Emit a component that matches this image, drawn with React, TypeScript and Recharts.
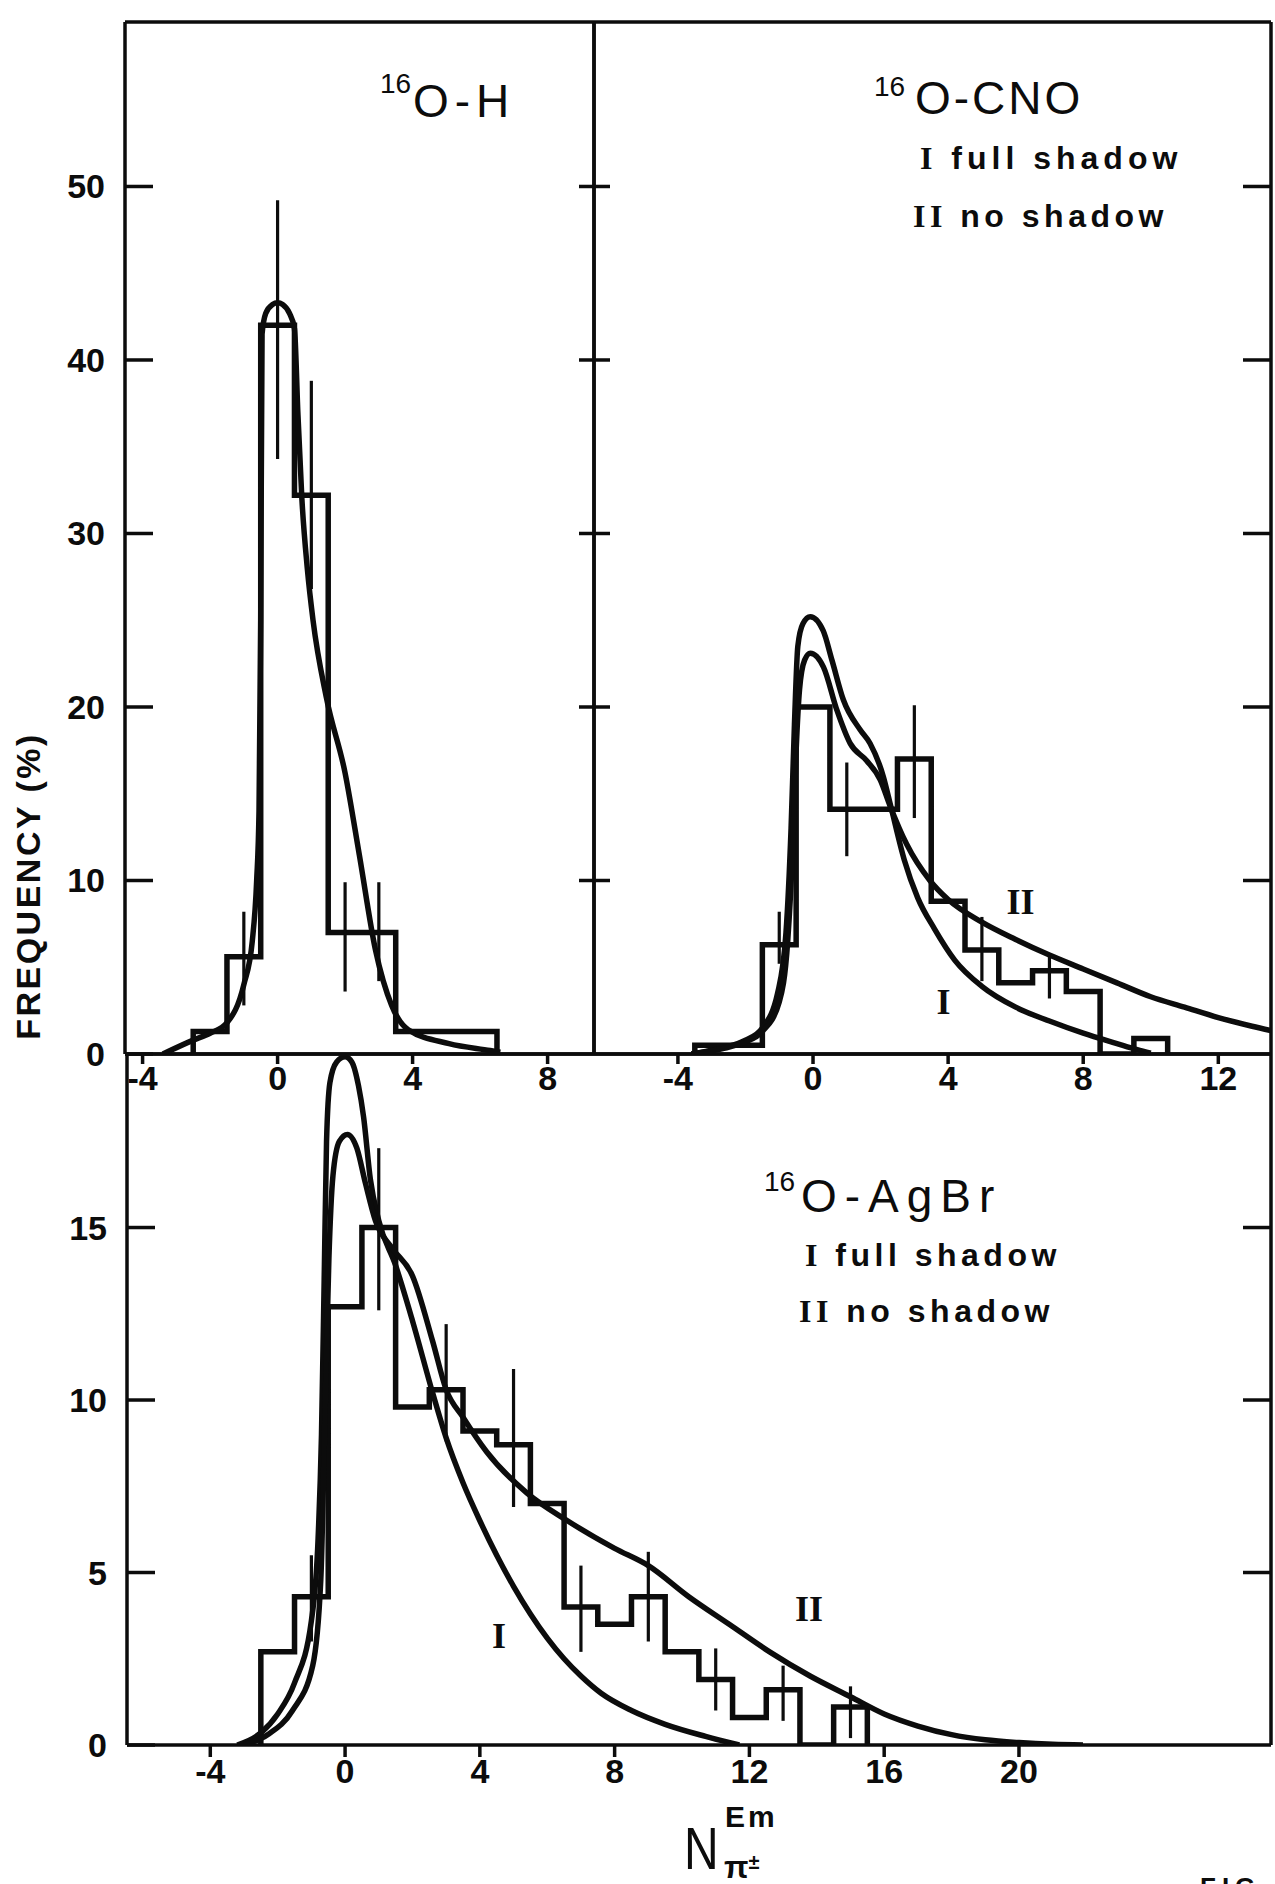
import React from 'react';
import { ComposedChart, Line, XAxis, YAxis, ReferenceLine, ReferenceDot } from 'recharts';

// ---------- 16O - H ----------
const ohEdges = [-2.5, -1.5, -0.5, 0.5, 1.5, 3.5, 6.5];
const ohFreq = [1.3, 5.6, 42.0, 32.2, 7.0, 1.3];
const ohErrX = [-1, 0, 1, 2, 3];
const ohErrLo = [2.8, 34.3, 26.8, 3.6, 4.2];
const ohErrHi = [8.2, 49.2, 38.8, 9.9, 9.9];
const ohFitX = [-3.4, -2.5, -2.0, -1.5, -1.0, -0.75, -0.62, -0.55, -0.5, -0.46, -0.35, -0.15, 0.0, 0.15, 0.35, 0.5, 0.6, 0.72, 0.88, 1.05, 1.45, 2.0, 2.42, 2.9, 3.38, 3.87, 5.08, 6.3, 6.6];
const ohFitY = [0, 0.8, 1.2, 1.8, 4.0, 6.5, 10.0, 14.0, 25.0, 41.5, 42.7, 43.2, 43.3, 43.2, 42.7, 41.8, 37.0, 32.0, 28.0, 25.0, 20.5, 16.2, 11.5, 6.0, 2.8, 1.4, 0.6, 0.2, 0.1];

// ---------- 16O - CNO ----------
const cnoEdges = [-3.5, -1.5, -0.5, 0.5, 2.5, 3.5, 4.5, 5.5, 6.5, 7.5, 8.5, 9.5, 10.5];
const cnoFreq = [0.5, 6.3, 20.0, 14.1, 17.0, 8.8, 6.0, 4.1, 4.8, 3.6, 0, 0.9];
const cnoErrX = [-1, 1, 3, 5, 7];
const cnoErrLo = [5.2, 11.4, 13.6, 4.2, 3.2];
const cnoErrHi = [8.2, 16.8, 20.1, 7.9, 5.6];
const cnoIX = [-3.6, -2.7, -2.0, -1.5, -1.05, -0.8, -0.65, -0.55, -0.45, -0.3, -0.08, 0.3, 0.56, 0.9, 1.39, 1.69, 2.08, 2.3, 2.7, 3.1, 3.6, 4.2, 5.0, 6.0, 7.0, 8.0, 9.0, 9.6, 10.0];
const cnoIY = [0, 0.35, 0.8, 1.5, 3.5, 7.0, 13.0, 19.0, 23.5, 24.8, 25.2, 24.4, 22.7, 20.4, 18.7, 17.9, 16.0, 14.3, 11.2, 9.0, 7.2, 5.4, 3.9, 2.7, 1.9, 1.2, 0.6, 0.25, 0.05];
const cnoIIX = [-3.6, -2.7, -2.0, -1.5, -1.0, -0.75, -0.6, -0.5, -0.4, -0.25, -0.08, 0.31, 0.71, 1.1, 1.59, 1.99, 2.28, 2.77, 3.46, 4.0, 5.0, 6.0, 7.0, 8.0, 9.0, 10.0, 11.0, 12.0, 13.0, 13.56];
const cnoIIY = [0, 0.3, 0.7, 1.3, 3.0, 6.5, 12.0, 17.5, 21.0, 22.7, 23.1, 22.3, 19.8, 17.9, 16.9, 15.8, 14.3, 12.1, 10.0, 8.9, 7.6, 6.6, 5.7, 4.9, 4.1, 3.3, 2.7, 2.1, 1.6, 1.35];
const cnoNoteX = [6.14, 3.86];
const cnoNoteY = [8.8, 3.05];
const cnoNoteText = ['II', 'I'];

// ---------- 16O - AgBr ----------
const agEdges = [-2.5, -1.5, -0.5, 0.5, 1.5, 2.5, 3.5, 4.5, 5.5, 6.5, 7.5, 8.5, 9.5, 10.5, 11.5, 12.5, 13.5, 14.5, 15.5];
const agFreq = [2.7, 4.3, 12.7, 15.0, 9.8, 10.3, 9.1, 8.7, 7.0, 4.0, 3.5, 4.3, 2.7, 1.9, 0.8, 1.6, 0, 1.1];
const agErrX = [-1, 1, 3, 5, 7, 9, 11, 13, 15];
const agErrLo = [3.0, 12.6, 8.8, 6.9, 2.7, 3.0, 1.0, 0.7, 0.2];
const agErrHi = [5.5, 17.3, 12.2, 10.9, 5.2, 5.6, 2.8, 2.3, 1.7];
const agIX = [-3.2, -2.5, -2.0, -1.5, -1.0, -0.8, -0.7, -0.62, -0.55, -0.45, -0.25, 0, 0.2, 0.4, 0.55, 0.75, 1.0, 1.5, 2.0, 2.6, 3.0, 3.5, 4.0, 4.5, 5.0, 5.5, 6.0, 6.5, 7.0, 7.6, 8.5, 9.5, 10.7, 11.7];
const agIY = [0, 0.35, 0.9, 1.8, 3.6, 6.0, 9.0, 13.5, 17.5, 19.2, 19.8, 19.95, 19.8, 19.1, 18.2, 16.4, 15.2, 13.9, 12.3, 10.2, 8.9, 7.6, 6.5, 5.5, 4.6, 3.8, 3.1, 2.5, 2.0, 1.5, 1.0, 0.6, 0.25, 0];
const agIIX = [-3.0, -2.3, -1.56, -0.96, -0.72, -0.6, -0.48, -0.36, -0.17, 0.07, 0.35, 0.6, 0.9, 1.4, 2.0, 2.6, 3.0, 3.5, 4.2, 5.4, 6.6, 8.0, 9.0, 10.2, 11.4, 12.6, 13.8, 15.0, 16.0, 17.0, 18.0, 19.0, 20.0, 21.0, 21.9];
const agIIY = [0, 0.3, 1.0, 2.3, 4.8, 9.4, 14.1, 16.5, 17.5, 17.7, 17.3, 16.3, 15.2, 14.4, 13.6, 11.7, 10.3, 9.5, 8.5, 7.3, 6.5, 5.7, 5.2, 4.3, 3.5, 2.7, 2.0, 1.4, 0.9, 0.55, 0.3, 0.15, 0.07, 0.02, 0];
const agNoteX = [4.57, 13.77];
const agNoteY = [3.2, 3.97];
const agNoteText = ['I', 'II'];

// ---------- axes ticks ----------
const topYTicks = [0, 10, 20, 30, 40, 50];
const topInnerYTicks = [10, 20, 30, 40, 50];
const ohXTicks = [-4, 0, 4, 8];
const cnoXTicks = [-4, 0, 4, 8, 12];
const agXTicks = [-4, 0, 4, 8, 12, 16, 20];
const agYTicks = [0, 5, 10, 15];
const agInnerYTicks = [5, 10, 15];

// ---------- helpers ----------
const INK = '#0c0c0c';
const numFont: React.CSSProperties = { fontFamily: 'Liberation Sans, Arial, sans-serif', fontWeight: 700, fontSize: 34, fill: INK };

const stepData = (edges: number[], freq: number[]) => {
  const pts = [{ x: edges[0], y: 0 }];
  freq.forEach((f, i) => pts.push({ x: edges[i], y: f }));
  pts.push({ x: edges[edges.length - 1], y: freq[freq.length - 1] });
  pts.push({ x: edges[edges.length - 1], y: 0 });
  return pts;
};
const zipXY = (xs: number[], ys: number[]) => xs.map((x, i) => ({ x, y: ys[i] }));

type Mode = 'label' | 'none' | 'inner' | 'cross';

const makeYTick = (mode: Mode, side: 'left' | 'right') => (p: any) => {
  const { x, y, payload } = p;
  if (mode === 'none') return <g />;
  if (mode === 'label') {
    return (
      <g>
        <line x1={x} x2={x + 28} y1={y} y2={y} stroke={INK} strokeWidth={3.5} />
        <text x={x - 20} y={y + 12} textAnchor="end" style={numFont}>{payload.value}</text>
      </g>
    );
  }
  if (mode === 'cross') {
    return <line x1={x - 15} x2={x + 16} y1={y} y2={y} stroke={INK} strokeWidth={3.5} />;
  }
  const dir = side === 'left' ? 1 : -1;
  return <line x1={x} x2={x + dir * 28} y1={y} y2={y} stroke={INK} strokeWidth={3.5} />;
};

const makeXTick = (tickLen: number, labelDy: number) => (p: any) => {
  const { x, y, payload } = p;
  return (
    <g>
      <line x1={x} x2={x} y1={y} y2={y + tickLen} stroke={INK} strokeWidth={3.5} />
      <text x={x} y={y + labelDy} textAnchor="middle" style={numFont}>{payload.value}</text>
    </g>
  );
};

type PanelProps = {
  left: number; top: number; plotW: number; plotH: number;
  xDomain: [number, number]; yDomain: [number, number];
  xTicks: number[]; yTicks: number[]; rightTicks: number[];
  leftMode: Mode; rightMode: Mode;
  tickLen: number; labelDy: number;
  hist: { x: number; y: number }[];
  curves: { x: number; y: number }[][];
  errX: number[]; errLo: number[]; errHi: number[];
  noteX?: number[]; noteY?: number[]; noteText?: string[];
};

const YW = 130, RW = 40, TH = 2, XH = 80;
const axisLineStyle = { stroke: INK, strokeWidth: 3.5 };

function Panel(pr: PanelProps) {
  const w = YW + pr.plotW + RW;
  const h = TH + pr.plotH + XH;
  return (
    <div style={{ position: 'absolute', left: pr.left - YW, top: pr.top - TH, width: w, height: h }}>
      <ComposedChart width={w} height={h} margin={{ top: 0, right: 0, bottom: 0, left: 0 }}>
        <XAxis xAxisId="x" type="number" dataKey="x" domain={pr.xDomain} allowDataOverflow ticks={pr.xTicks}
          interval={0} tickLine={false} tickSize={0} tickMargin={0} height={XH} axisLine={axisLineStyle}
          tick={makeXTick(pr.tickLen, pr.labelDy)} />
        <XAxis xAxisId="t" orientation="top" type="number" domain={pr.xDomain} allowDataOverflow
          tick={false} tickLine={false} height={TH} axisLine={axisLineStyle} />
        <YAxis yAxisId="y" type="number" domain={pr.yDomain} allowDataOverflow ticks={pr.yTicks}
          interval={0} tickLine={false} tickSize={0} tickMargin={0} width={YW} axisLine={axisLineStyle}
          tick={makeYTick(pr.leftMode, 'left')} />
        <YAxis yAxisId="r" orientation="right" type="number" domain={pr.yDomain} allowDataOverflow ticks={pr.rightTicks}
          interval={0} tickLine={false} tickSize={0} tickMargin={0} width={RW} axisLine={axisLineStyle}
          tick={makeYTick(pr.rightMode, 'right')} />
        <Line xAxisId="x" yAxisId="y" data={pr.hist} dataKey="y" type="stepAfter" dot={false}
          stroke={INK} strokeWidth={5.5} isAnimationActive={false} />
        {pr.curves.map((c, i) => (
          <Line key={'c' + i} xAxisId="x" yAxisId="y" data={c} dataKey="y" type="monotone" dot={false}
            stroke={INK} strokeWidth={5.5} isAnimationActive={false} />
        ))}
        {pr.errX.map((x, i) => (
          <ReferenceLine key={'e' + i} xAxisId="x" yAxisId="y"
            segment={[{ x, y: pr.errLo[i] }, { x, y: pr.errHi[i] }]} stroke={INK} strokeWidth={3.2} />
        ))}
        {(pr.noteX || []).map((x, i) => (
          <ReferenceDot key={'n' + i} xAxisId="x" yAxisId="y" x={x} y={(pr.noteY || [])[i]} r={0}
            shape={(s: any) => (
              <text x={s.cx} y={s.cy + 13} textAnchor="middle"
                style={{ fontFamily: 'Liberation Serif, serif', fontWeight: 700, fontSize: 36, fill: INK }}>
                {(pr.noteText || [])[i]}
              </text>
            )} />
        ))}
      </ComposedChart>
    </div>
  );
}

const sans: React.CSSProperties = { fontFamily: 'Liberation Sans, Arial, sans-serif', fill: INK };
const serifB: React.CSSProperties = { fontFamily: 'Liberation Serif, serif', fontWeight: 700 };

export default function App() {
  return (
    <div style={{ position: 'absolute', left: 0, top: 0, width: 1275, height: 1884, background: '#fff', overflow: 'hidden' }}>
      <Panel left={125} top={22} plotW={469} plotH={1032}
        xDomain={[-4.521, 9.375]} yDomain={[0, 59.48]}
        xTicks={ohXTicks} yTicks={topYTicks} rightTicks={topInnerYTicks}
        leftMode="label" rightMode="cross" tickLen={10} labelDy={36}
        hist={stepData(ohEdges, ohFreq)} curves={[zipXY(ohFitX, ohFitY)]}
        errX={ohErrX} errLo={ohErrLo} errHi={ohErrHi} />
      <Panel left={594} top={22} plotW={677} plotH={1032}
        xDomain={[-6.485, 13.56]} yDomain={[0, 59.48]}
        xTicks={cnoXTicks} yTicks={topYTicks} rightTicks={topInnerYTicks}
        leftMode="none" rightMode="inner" tickLen={10} labelDy={36}
        hist={stepData(cnoEdges, cnoFreq)} curves={[zipXY(cnoIX, cnoIY), zipXY(cnoIIX, cnoIIY)]}
        errX={cnoErrX} errLo={cnoErrLo} errHi={cnoErrHi}
        noteX={cnoNoteX} noteY={cnoNoteY} noteText={cnoNoteText} />
      <Panel left={127} top={1054} plotW={1144} plotH={691}
        xDomain={[-6.472, 27.48]} yDomain={[0, 20.03]}
        xTicks={agXTicks} yTicks={agYTicks} rightTicks={agInnerYTicks}
        leftMode="label" rightMode="inner" tickLen={12} labelDy={38}
        hist={stepData(agEdges, agFreq)} curves={[zipXY(agIX, agIY), zipXY(agIIX, agIIY)]}
        errX={agErrX} errLo={agErrLo} errHi={agErrHi}
        noteX={agNoteX} noteY={agNoteY} noteText={agNoteText} />

      <svg width={1275} height={1884} style={{ position: 'absolute', left: 0, top: 0, pointerEvents: 'none' }}>
        {/* panel titles */}
        <text x={380} y={93} style={{ ...sans, fontSize: 28 }}>16</text>
        <text x={413} y={117} style={{ ...sans, fontSize: 46, letterSpacing: 6 }}>O-H</text>

        <text x={874} y={96} style={{ ...sans, fontSize: 28 }}>16</text>
        <text x={915} y={114} style={{ ...sans, fontSize: 46, letterSpacing: 3 }}>O-CNO</text>
        <text x={920} y={169} style={{ ...sans, fontSize: 32, fontWeight: 700, letterSpacing: 5 }}>
          <tspan style={serifB}>I</tspan> full shadow
        </text>
        <text x={913} y={227} style={{ ...sans, fontSize: 32, fontWeight: 700, letterSpacing: 4.5 }}>
          <tspan style={serifB}>II</tspan> no shadow
        </text>

        <text x={764} y={1191} style={{ ...sans, fontSize: 28 }}>16</text>
        <text x={801} y={1212} style={{ ...sans, fontSize: 46, letterSpacing: 8 }}>O-AgBr</text>
        <text x={805} y={1266} style={{ ...sans, fontSize: 32, fontWeight: 700, letterSpacing: 4.5 }}>
          <tspan style={serifB}>I</tspan> full shadow
        </text>
        <text x={799} y={1322} style={{ ...sans, fontSize: 32, fontWeight: 700, letterSpacing: 4.5 }}>
          <tspan style={serifB}>II</tspan> no  shadow
        </text>

        {/* y axis title */}
        <text transform="translate(40, 886) rotate(-90)" textAnchor="middle"
          style={{ ...sans, fontSize: 34, fontWeight: 700, letterSpacing: 2.5 }}>FREQUENCY (%)</text>

        {/* x axis title */}
        <text transform="translate(684, 1869) scale(0.8, 1)" style={{ ...sans, fontSize: 60 }}>N</text>
        <text x={725} y={1827} style={{ ...sans, fontSize: 30, fontWeight: 700, letterSpacing: 3 }}>Em</text>
        <text x={724} y={1878} style={{ ...sans, fontSize: 32, fontWeight: 700 }}>π<tspan fontSize={20} dy={-9}>±</tspan></text>

        {/* figure number (cut off at page edge, as in the original scan) */}
        <text x={1200} y={1896} style={{ ...sans, fontSize: 26, fontWeight: 700, letterSpacing: 6 }}>FIG. 2</text>
      </svg>
    </div>
  );
}
